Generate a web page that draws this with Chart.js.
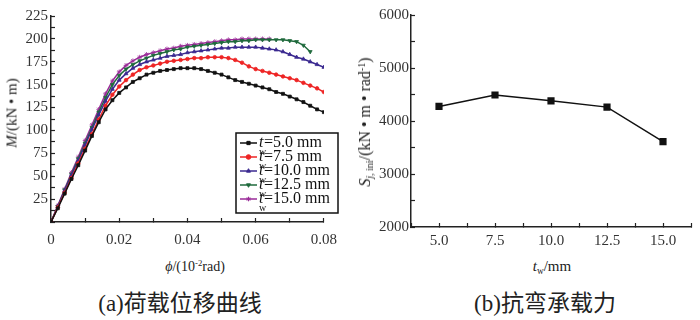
<!DOCTYPE html>
<html><head><meta charset="utf-8">
<script src="https://cdn.jsdelivr.net/npm/chart.js@4.4.1/dist/chart.umd.min.js"></script>
<style>
html,body{margin:0;padding:0;background:#fff;}
body{width:700px;height:320px;overflow:hidden;position:relative;font-family:"Liberation Serif","Times New Roman","DejaVu Serif","Noto Sans CJK SC",serif;color:#222;}
canvas{position:absolute;top:0;}
#c1{left:0;}
#c2{left:350px;}
.t{position:absolute;white-space:nowrap;transform:translate(-50%,-50%);line-height:1;}
.rot{transform:translate(-50%,-50%) rotate(-90deg);}
.sb{font-size:0.62em;position:relative;top:0.35em;}
.sp{font-size:0.62em;position:relative;top:-0.55em;}
</style>
</head><body>
<canvas id="c1" width="350" height="255"></canvas>
<canvas id="c2" width="350" height="255"></canvas>

<div class="t rot" style="left:12px;top:113px;font-size:15px;"><i>M</i>/(kN • m)</div>
<div class="t" style="left:195px;top:267px;font-size:14px;"><i>ϕ</i>/(10<span class="sp">-2</span>rad)</div>
<div class="t" style="left:180px;top:303px;font-size:23px;">(a)荷载位移曲线</div>

<div class="t rot" style="left:365px;top:122px;font-size:16px;"><i>S</i><span class="sb"><i>j</i>, ini</span>/(kN • m • rad<span class="sp">-1</span>)</div>
<div class="t" style="left:552px;top:266px;font-size:15px;"><i>t</i><span class="sb">w</span>/mm</div>
<div class="t" style="left:545px;top:303px;font-size:23px;">(b)抗弯承载力</div>

<script>
// ---- Data: (a) moment-rotation curves ----
const phi = [0,0.002,0.004,0.006,0.008,0.010,0.012,0.014,0.016,0.018,0.020,0.022,0.024,0.026,0.028,0.030,0.032,0.034,0.036,0.038,0.040,0.042,0.044,0.046,0.048,0.050,0.052,0.054,0.056,0.058,0.060,0.062,0.064,0.066,0.068,0.070,0.072,0.074,0.076,0.078,0.080];
const M_tw50  = [0,15,31,47,62,78,94,109,123,133,141,147,153,157,161,163,165,166,167,168,168,168,167,165,163,161,158,155,153,151,149,147,145,142,140,137,134,131,127,123,120];
const M_tw75  = [0,16,32,48,64,80,96,112,127,139,148,155,161,166,169,171,173,175,176,177,178,179,179,180,180,180,179,177,174,170,167,165,163,161,159,157,155,152,149,146,142];
const M_tw100 = [0,17,34,51,67,84,101,117,132,145,155,162,168,172,175,177,179,181,182,183,185,186,187,188,189,190,190,191,191,191,191,190,189,188,186,183,180,178,175,172,169];
const M_tw125 = [0,17,35,52,69,86,103,120,136,150,160,167,172,176,179,182,184,186,188,189,191,192,193,194,195,196,197,197,198,198,199,199,199,199,199,198,197,193,186];
const M_tw150 = [0,18,36,54,71,89,106,123,140,154,164,171,176,180,183,185,187,189,190,192,193,194,195,196,197,198,199,199,200,200,200,200,200];
const legendLabels = ['5.0','7.5','10.0','12.5','15.0'];

// ---- Data: (b) initial rotational stiffness ----
const twValues = [5.0,7.5,10.0,12.5,15.0];
const Sj_ini = [4275,4490,4380,4262,3612];

const pts = (ys) => ys.map((y,i)=>({x:phi[i],y:y}));
const FONT = '"Liberation Serif", "Times New Roman", "DejaVu Serif", serif';
const TICKC = '#333';
const AXC = '#222';

const series = [
  {label:legendLabels[0], data:pts(M_tw50),  color:'#111111', style:'rect',     rot:0,   r:2.1},
  {label:legendLabels[1], data:pts(M_tw75),  color:'#ee2424', style:'circle',   rot:0,   r:1.8},
  {label:legendLabels[2], data:pts(M_tw100), color:'#3b2a90', style:'triangle', rot:0,   r:2.2},
  {label:legendLabels[3], data:pts(M_tw125), color:'#1f6a3c', style:'triangle', rot:180, r:2.2},
  {label:legendLabels[4], data:pts(M_tw150), color:'#9a2b98', style:'star',     rot:0,   r:2.4}
];

const legendPlugin = {
  id:'legendBox',
  afterDraw(chart){
    const ctx = chart.ctx;
    const x0=236, y0=133, w=102, h=80;
    ctx.save();
    ctx.fillStyle='#fff'; ctx.fillRect(x0,y0,w,h);
    ctx.lineWidth=1.5; ctx.strokeStyle='#111'; ctx.strokeRect(x0,y0,w,h);
    chart.data.datasets.forEach((ds,i)=>{
      const y = 143 + i*14;
      ctx.strokeStyle = ds.borderColor; ctx.lineWidth = 1.5;
      ctx.beginPath(); ctx.moveTo(240,y); ctx.lineTo(257,y); ctx.stroke();
      ctx.fillStyle = ds.borderColor; ctx.strokeStyle = ds.borderColor; ctx.lineWidth = 1;
      Chart.helpers.drawPoint(ctx,{pointStyle:ds.pointStyle,radius:2.3,borderWidth:1,rotation:ds.rotation||0},248.5,y);
      ctx.fillStyle='#111'; ctx.textBaseline='middle'; ctx.textAlign='left';
      ctx.font='italic 16px '+FONT; ctx.fillText('t',259,y);
      ctx.font='10px '+FONT; ctx.fillText('w',259,y+9);
      ctx.font='16px '+FONT; ctx.fillText('='+legendLabels[i]+' mm',264,y);
    });
    ctx.restore();
  }
};

new Chart(document.getElementById('c1'), {
  type:'line',
  data:{datasets: series.map(s=>({
    label:s.label, data:s.data, borderColor:s.color, backgroundColor:s.color,
    borderWidth:1.5, pointStyle:s.style, pointRotation:s.rot, rotation:s.rot,
    pointRadius:s.r, pointBorderWidth:0.8, pointBackgroundColor:s.color, pointBorderColor:s.color,
    tension:0, fill:false
  }))},
  options:{
    responsive:false, animation:false, devicePixelRatio:1,
    layout:{padding:{left:0,right:21,top:15,bottom:0}},
    plugins:{legend:{display:false}, tooltip:{enabled:false}},
    scales:{
      x:{type:'linear', min:0, max:0.08,
        ticks:{stepSize:0.01, autoSkip:false, maxRotation:0, padding:13, color:TICKC, font:{family:FONT,size:15},
          callback:(v)=>{const k=Math.round(v*100); if(k%2!==0) return ''; return k===0?'0':(k/100).toFixed(2);}},
        grid:{display:true, drawOnChartArea:false, drawTicks:true, tickLength:-4, tickColor:AXC, tickWidth:1.2},
        border:{display:true,color:AXC,width:1.5},
        afterFit(s){s.height=33;}
      },
      y:{type:'linear', min:0, max:225,
        ticks:{stepSize:12.5, autoSkip:false, padding:7, color:TICKC, font:{family:FONT,size:15},
          callback:(v)=>(v%25===0 && v!==0)?String(v):''},
        grid:{display:true, drawOnChartArea:false, drawTicks:true, tickLength:-4, tickColor:AXC, tickWidth:1.2},
        border:{display:true,color:AXC,width:1.5},
        afterFit(s){s.width=51;}
      }
    }
  },
  plugins:[legendPlugin]
});

new Chart(document.getElementById('c2'), {
  type:'line',
  data:{datasets:[{
    label:'Sj,ini', data: twValues.map((t,i)=>({x:t,y:Sj_ini[i]})),
    borderColor:'#111', backgroundColor:'#111', borderWidth:1.5,
    pointStyle:'rect', pointRadius:4, pointBackgroundColor:'#111', pointBorderColor:'#111', tension:0
  }]},
  options:{
    responsive:false, animation:false, devicePixelRatio:1,
    layout:{padding:{left:0,right:3,top:13,bottom:0}},
    plugins:{legend:{display:false}, tooltip:{enabled:false}},
    scales:{
      x:{type:'linear', min:3.75, max:16.25,
        ticks:{stepSize:1.25, autoSkip:false, maxRotation:0, padding:9, color:TICKC, font:{family:FONT,size:15},
          callback:(v)=>{const k=Math.round(v*100); return (k%250===0 && k>=500 && k<=1500)?(k/100).toFixed(1):'';}},
        grid:{display:true, drawOnChartArea:false, drawTicks:true, tickLength:-4, tickColor:AXC, tickWidth:1.2},
        border:{display:true,color:AXC,width:1.5},
        afterFit(s){s.height=28;}
      },
      y:{type:'linear', min:2000, max:6000,
        ticks:{stepSize:500, autoSkip:false, padding:6, color:TICKC, font:{family:FONT,size:15},
          callback:(v)=>(v%1000===0)?String(v):''},
        grid:{display:true, drawOnChartArea:false, drawTicks:true, tickLength:-4, tickColor:AXC, tickWidth:1.2},
        border:{display:true,color:AXC,width:1.5},
        afterFit(s){s.width=61;}
      }
    }
  }
});
</script>
</body></html>
